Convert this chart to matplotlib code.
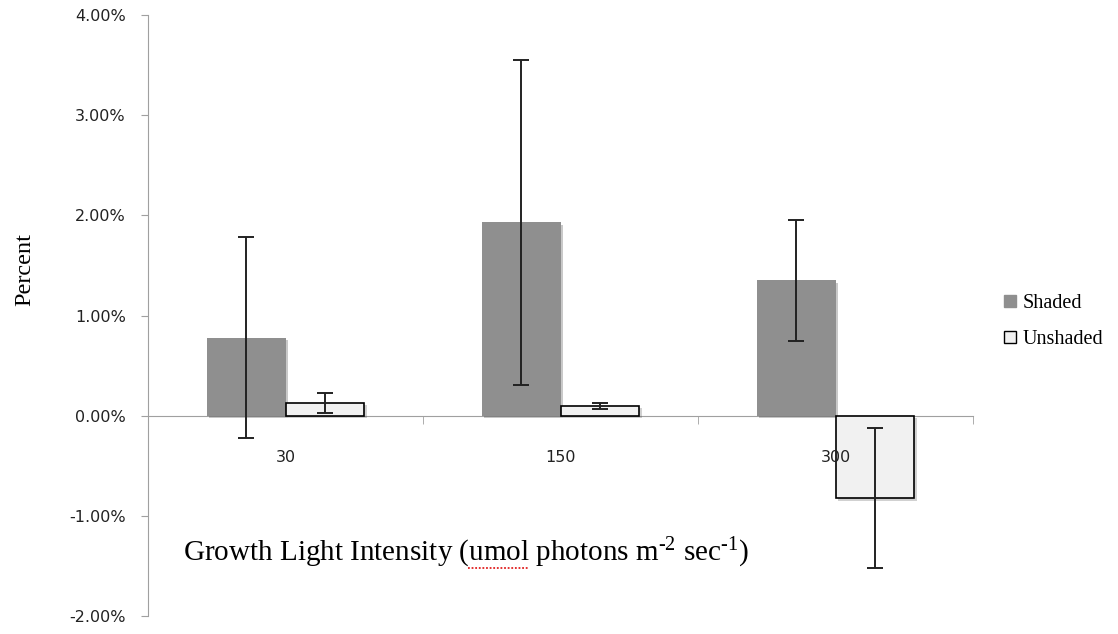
import numpy as np
import matplotlib
matplotlib.use('Agg')
import matplotlib.pyplot as plt
import matplotlib.patheffects as pe
from matplotlib.patches import Patch
from matplotlib.lines import Line2D

categories = ['30', '150', '300']
shaded = [0.78, 1.93, 1.35]
shaded_err = [1.00, 1.62, 0.60]
unshaded = [0.13, 0.10, -0.82]
unshaded_err = [0.10, 0.03, 0.70]
yticks = [-2, -1, 0, 1, 2, 3, 4]

plt.rcParams['mathtext.fontset'] = 'custom'
plt.rcParams['mathtext.rm'] = 'Liberation Serif'
plt.rcParams['mathtext.it'] = 'Liberation Serif:italic'

fig = plt.figure(figsize=(11.18, 6.34), dpi=100)
ax = fig.add_axes([148/1118, 18/634, 825/1118, 601/634])

x = np.arange(len(categories))
w = 0.287
shadow = [pe.SimplePatchShadow(offset=(2, -2), alpha=0.25), pe.Normal()]
b1 = ax.bar(x - w/2, shaded, w, color='#8f8f8f', edgecolor='none', zorder=2)
b2 = ax.bar(x + w/2, unshaded, w, color='#f1f1f1', edgecolor='black', linewidth=1.2, zorder=2)
for b in list(b1) + list(b2):
    b.set_path_effects(shadow)
ax.errorbar(x - w/2, shaded, yerr=shaded_err, fmt='none', ecolor='#222222',
            elinewidth=1.4, capsize=6, capthick=1.4, zorder=3)
ax.errorbar(x + w/2, unshaded, yerr=unshaded_err, fmt='none', ecolor='#222222',
            elinewidth=1.4, capsize=6, capthick=1.4, zorder=3)

ax.set_xlim(-0.5, 2.5)
ax.set_ylim(-2, 4)
ax.set_yticks(yticks)
ax.set_yticklabels(['%.2f%%' % v for v in yticks], fontsize=11.5, color='#222222')
ax.tick_params(axis='y', direction='out', length=5, color='#a0a0a0', pad=11)

for s in ['top', 'right']:
    ax.spines[s].set_visible(False)
ax.spines['left'].set_color('#a0a0a0')
ax.spines['bottom'].set_color('#a0a0a0')
ax.spines['bottom'].set_position(('data', 0))
ax.spines['bottom'].set_zorder(1)
ax.set_axisbelow(False)
ax.set_xticks(x)
ax.set_xticklabels(categories, fontsize=11.5, color='#222222')
ax.set_xticks([0.5, 1.5, 2.5], minor=True)
ax.tick_params(axis='x', which='major', length=0, pad=25)
ax.tick_params(axis='x', which='minor', direction='out', length=6, color='#a0a0a0')

fs = 21
xl = fig.text(183/1118, 1 - 553/634,
              r'Growth Light Intensity (umol photons m$^{\text{-2}}$ sec$^{\text{-1}}$)',
              family='Liberation Serif', fontsize=fs, ha='left', va='center')
fig.text(25/1118, 1 - 270/634, 'Percent', family='Liberation Serif', fontsize=17.5,
         rotation=90, ha='center', va='center')

# red spell-check underline under "umol"
r = fig.canvas.get_renderer()
pre = fig.text(183/1118, 1 - 553/634, 'Growth Light Intensity (', family='Liberation Serif',
               fontsize=fs, ha='left', va='center')
word = fig.text(0, 0, 'umol', family='Liberation Serif', fontsize=fs)
x0 = pre.get_window_extent(r).x1
wlen = word.get_window_extent(r).width
pre.remove()
word.remove()
yb = xl.get_window_extent(r).y0 + 2
fig.add_artist(Line2D([x0 / 1118, (x0 + wlen) / 1118], [yb / 634, yb / 634],
                      transform=fig.transFigure, color='#e02020', lw=1.3,
                      linestyle=(0, (1, 1))))

handles = [Patch(facecolor='#8f8f8f', edgecolor='#8f8f8f'),
           Patch(facecolor='#f1f1f1', edgecolor='black')]
leg = fig.legend(handles, ['Shaded', 'Unshaded'], loc='upper left',
                 bbox_to_anchor=(1004/1118, 1 - 294/634), frameon=False,
                 prop={'family': 'Liberation Serif', 'size': 14.5},
                 handlelength=0.6, handleheight=0.6, handletextpad=0.3,
                 labelspacing=0.85, borderpad=0, borderaxespad=0)

plt.savefig('out.png', dpi=100)
